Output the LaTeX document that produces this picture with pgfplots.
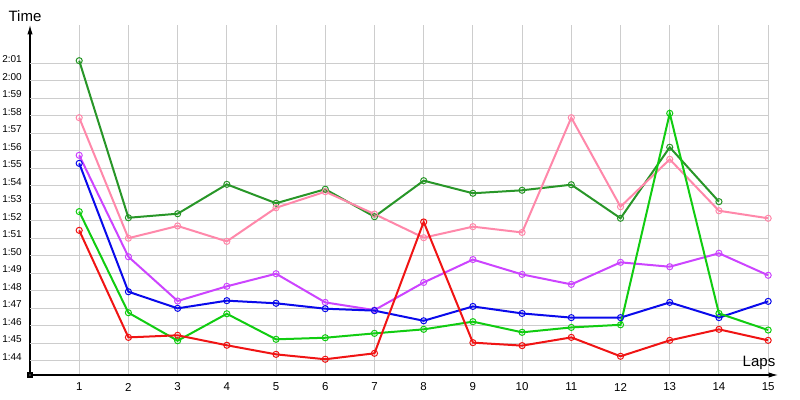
\documentclass[border=0pt]{standalone}
\usepackage{pgfplots}
\pgfplotsset{compat=1.18}
\usepackage{fontspec}
\setmainfont{Liberation Sans}
\usetikzlibrary{arrows.meta}
\definecolor{cdkgreen}{RGB}{40,150,40}
\definecolor{cpink}{RGB}{255,136,170}
\definecolor{cpurple}{RGB}{204,68,255}
\definecolor{cblue}{RGB}{10,10,235}
\definecolor{cgreen}{RGB}{17,204,17}
\definecolor{cred}{RGB}{240,20,20}
\definecolor{cgrid}{RGB}{205,205,205}
\begin{document}
\begin{tikzpicture}
\path (0,0) rectangle (600pt,300pt);
\begin{axis}[
  at={(22.5pt,18.75pt)}, anchor=south west,
  scale only axis, width=561pt, height=262.5pt,
  xmin=0, xmax=15.2, ymin=103.18, ymax=123.19,
  axis lines=left,
  axis line style={line width=0.8pt, -{Latex[length=7pt,width=4pt]}},
  xtick={1,...,15},
  xticklabels={1,2,3,4,5,6,7,8,9,10,11,12,13,14,15},
  ytick={104,...,121},
  yticklabels={1:44,1:45,1:46,1:47,1:48,1:49,1:50,1:51,1:52,1:53,1:54,1:55,1:56,1:57,1:58,1:59,2:00,2:01},
  major tick length=0pt,
  xmajorgrids=true,
  grid style={cgrid, line width=0.75pt},
  xticklabel style={font=\fontsize{8.6pt}{10pt}\selectfont, anchor=center, inner sep=0pt, yshift=-9pt},
  yticklabel style={font=\fontsize{7.5pt}{9pt}\selectfont, anchor=east, inner sep=0pt, xshift=-6pt, yshift=3pt},
  clip=false,
  every axis plot/.append style={line width=1.5pt, mark=o, mark size=2.3pt, mark options={fill=white, line width=0.75pt}},
]
\foreach \yy in {104,...,121}{
  \edef\tmp{\noexpand\draw[cgrid, line width=0.75pt] (axis cs:0,\yy) -- (axis cs:15,\yy);}
  \tmp
}
\addplot[cdkgreen, mark options={fill=white,line width=0.75pt}] coordinates {
(1,121.15)(2,112.17)(3,112.4)(4,114.08)(5,113.0)(6,113.8)(7,112.23)(8,114.29)(9,113.57)(10,113.74)(11,114.06)(12,112.14)(13,116.2)(14,113.09)};
\addplot[cpink, mark options={fill=white,line width=0.75pt}] coordinates {
(1,117.89)(2,111.0)(3,111.7)(4,110.82)(5,112.74)(6,113.66)(7,112.38)(8,111.03)(9,111.66)(10,111.33)(11,117.89)(12,112.8)(13,115.51)(14,112.57)(15,112.14)};
\addplot[cpurple, mark options={fill=white,line width=0.75pt}] coordinates {
(1,115.74)(2,109.94)(3,107.41)(4,108.25)(5,108.97)(6,107.33)(7,106.89)(8,108.47)(9,109.78)(10,108.93)(11,108.36)(12,109.62)(13,109.37)(14,110.14)(15,108.88)};
\addplot[cblue, mark options={fill=white,line width=0.75pt}] coordinates {
(1,115.28)(2,107.94)(3,106.99)(4,107.43)(5,107.28)(6,106.97)(7,106.86)(8,106.28)(9,107.1)(10,106.7)(11,106.46)(12,106.46)(13,107.33)(14,106.46)(15,107.39)};
\addplot[cgreen, mark options={fill=white,line width=0.75pt}] coordinates {
(1,112.52)(2,106.74)(3,105.14)(4,106.68)(5,105.22)(6,105.31)(7,105.56)(8,105.79)(9,106.23)(10,105.62)(11,105.9)(12,106.05)(13,118.14)(14,106.7)(15,105.75)};
\addplot[cred, mark options={fill=white,line width=0.75pt}] coordinates {
(1,111.45)(2,105.33)(3,105.45)(4,104.88)(5,104.36)(6,104.08)(7,104.42)(8,111.93)(9,105.03)(10,104.86)(11,105.33)(12,104.25)(13,105.16)(14,105.79)(15,105.16)};
\addplot[black, only marks, mark=square*, mark size=1.5pt, mark options={fill=black!80}] coordinates {(0,103.18)};
\end{axis}
\node[font=\fontsize{11.25pt}{13pt}\selectfont, inner sep=0pt] at (18.75pt,288pt) {Time};
\node[font=\fontsize{11.25pt}{13pt}\selectfont, inner sep=0pt] at (569.25pt,27.75pt) {Laps};
\pgfresetboundingbox
\path[use as bounding box] (0,0) rectangle (600pt,300pt);
\end{tikzpicture}
\end{document}
